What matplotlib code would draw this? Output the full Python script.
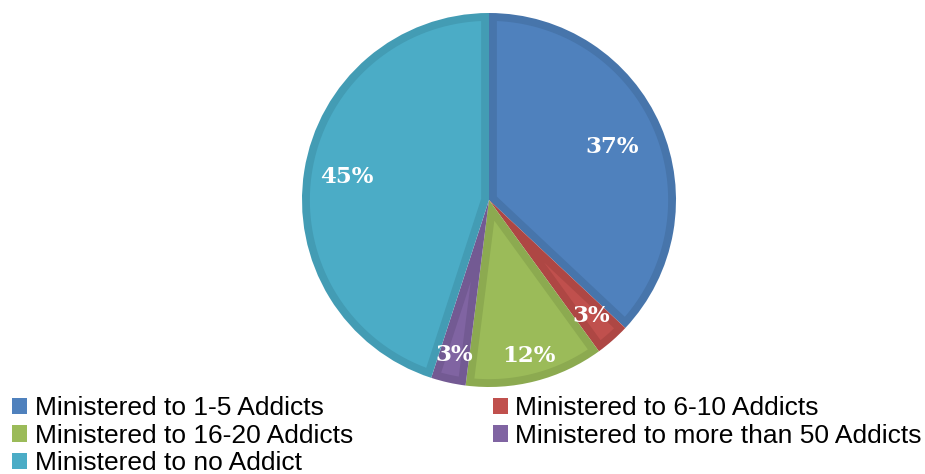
import numpy as np
import matplotlib
matplotlib.use('Agg')
import matplotlib.pyplot as plt
from matplotlib.patches import Polygon

# Données
categories = ["Ministered to 1-5 Addicts", "Ministered to 6-10 Addicts",
              "Ministered to 16-20 Addicts", "Ministered to more than 50 Addicts",
              "Ministered to no Addict"]
shares = [37, 3, 12, 3, 45]
pct_labels = ["37%", "3%", "12%", "3%", "45%"]

colors = ["#4F81BD", "#C0504D", "#9BBB59", "#8064A2", "#4BACC6"]
edges = ["#4775AB", "#AE4744", "#8CAA50", "#735A93", "#439CB4"]
label_r = [0.72, 0.83, 0.86, 0.85, 0.77]
border = 0.042  # épaisseur de la bordure intérieure (rayon = 1)


def inner_wedge(t1, t2, d, R=1.0):
    """Contour de la part réduite de d vers l'intérieur."""
    a1, a2 = np.deg2rad(t1), np.deg2rad(t2)
    half = (a2 - a1) / 2
    mid = a1 + half
    apex = d / np.sin(half)
    delta = np.arcsin(d / (R - d))
    arc = np.linspace(a1 + delta, a2 - delta, 80)
    pts = [(apex * np.cos(mid), apex * np.sin(mid))]
    pts += list(zip((R - d) * np.cos(arc), (R - d) * np.sin(arc)))
    return pts


fig = plt.figure(figsize=(9.25, 4.74), dpi=100)
ax = fig.add_axes([302 / 925, 87 / 474, 374 / 925, 374 / 474])

wedges, _ = ax.pie(shares, colors=edges, startangle=90, counterclock=False,
                   radius=1.0, wedgeprops=dict(linewidth=0))
for w, c in zip(wedges, colors):
    ax.add_patch(Polygon(inner_wedge(w.theta1, w.theta2, border),
                         closed=True, facecolor=c, edgecolor="none"))

# Étiquettes de pourcentage
for w, lab, r in zip(wedges, pct_labels, label_r):
    ang = np.deg2rad((w.theta1 + w.theta2) / 2)
    ax.text(r * np.cos(ang), r * np.sin(ang), lab, ha="center", va="center",
            color="white", fontsize=16.5, fontweight="bold", family="DejaVu Serif")

ax.set_xlim(-1, 1); ax.set_ylim(-1, 1)
ax.set_aspect("equal")
ax.axis("off")

# Légende (carrés dans la couleur de remplissage)
order = [0, 2, 4, 1, 3]
handles = [plt.Rectangle((0, 0), 1, 1, facecolor=colors[i], linewidth=0) for i in order]
leg = fig.legend(handles, [categories[i] for i in order],
                 loc="upper left", bbox_to_anchor=(0.002, 0.186), ncol=2,
                 frameon=False, prop=dict(family="Liberation Sans", size=19),
                 handlelength=0.57, handleheight=0.57, handletextpad=0.27,
                 labelspacing=0.13, columnspacing=5.3, borderaxespad=0)

plt.savefig("out.png", dpi=100)
plt.close()
